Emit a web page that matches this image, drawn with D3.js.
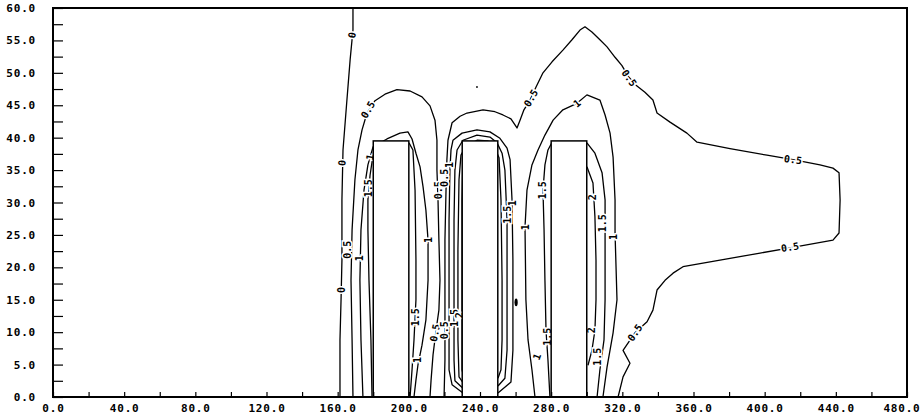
<!DOCTYPE html>
<html>
<head>
<meta charset="utf-8">
<script src="https://cdn.jsdelivr.net/npm/d3@7"></script>
<style>
  body { margin: 0; background: #fff; }
  .axis text { font-family: "DejaVu Sans Mono", monospace; font-weight: bold; font-size: 11px; letter-spacing: 0.8px; fill: #000; }
  .axis line { stroke: #000; stroke-width: 1.2; }
  .contour { fill: none; stroke: #000; stroke-width: 1.3; stroke-linejoin: round; }
  .clabel { font-family: "DejaVu Sans Mono", monospace; font-weight: bold; font-size: 10px; fill: #000;
            stroke: #fff; stroke-width: 3px; paint-order: stroke; }
</style>
</head>
<body>
<div class="display"></div>
<script>
// Contour chart around three blocks, x 0-480, y 0-60

const WIDTH = 921;
const HEIGHT = 417;
const LEFT = 53, RIGHT = 907, TOP = 8, BOTTOM = 397;

const xTickValues = d3.range(0, 481, 20);
const yTickValues = d3.range(0, 60.01, 2.5);

// blocks: [x0, x1, height]
const blocks = [[180, 200, 39.5], [230, 250, 39.5], [280, 300, 39.5]];

// contour lines, [x, y] in data units
const line0 = [[168.6,60],[168.6,56.6],[167.0,52.0],[165.2,45.8],[163.0,38.1],[162.4,30.4],[162.4,21.1],[161.9,15.0],[161.3,8.8],[161.3,0]];

const line05a = [[168.6,0],[168.1,8.8],[167.5,18.0],[168.1,25.8],[169.7,33.5],[171.4,38.1],[173.7,41.2],[176.5,43.8],[181.0,45.7],[186.6,46.7],
  [193.3,47.4],[200.7,47.2],[207.4,46.3],[211.9,44.9],[214.7,42.7],[215.8,39.6],[215.8,35.0],[216.4,30.4],[216.9,24.2],[217.5,18.0],
  [216.9,13.4],[215.3,10.3],[213.6,6.5],[212.5,2.6],[211.9,0]];

const line05b = [[219.8,0],[220.3,5.7],[220.3,15.0],[220.3,24.2],[220.9,31.9],[221.4,36.6],[222.0,39.6],[224.3,42.3],[228.8,43.3],[232.7,43.8],
  [241.7,44.3],[248.4,44.0],[252.9,43.5],[257.4,42.9],[260.8,41.5],[262.5,42.7],[264.7,44.3],[268.1,45.8],[271.5,47.8],[275.4,50.0],
  [280.5,51.7],[286.6,53.5],[291.7,55.1],[296.2,56.6],[299.0,57.1],[302.9,56.3],[307.4,55.1],[311.4,54.0],[315.9,52.4],[319.8,51.1],
  [323.2,49.5],[327.7,48.1],[332.7,47.0],[337.2,45.8],[339.5,43.8],[346.8,42.4],[356.3,40.7],[362.0,39.3],[380.5,38.3],[401.3,37.3],
  [415.9,36.6],[431.1,35.8],[438.4,35.3],[441.8,34.6],[442.4,30.4],[441.8,25.3],[438.4,24.2],[414.2,23.0],[397.4,22.2],[374.9,21.1],
  [354.1,20.1],[348.5,19.1],[344.0,18.0],[339.5,16.5],[337.2,13.4],[333.9,11.6],[327.1,9.9],[320.4,7.2],[324.3,5.2],[320.4,3.1],[317.6,0]];

const line1a = [[174.2,0],[173.1,8.8],[172.5,18.0],[173.1,25.8],[174.8,31.9],[177.0,35.8],[179.9,38.6],[187.7,39.8],[195.0,40.7],[199.5,40.9],
  [201.8,39.8],[204.0,37.6],[206.3,35.5],[208.0,32.4],[209.6,28.8],[210.8,24.2],[210.8,18.0],[209.6,11.9],[207.4,8.0],[205.1,4.9],
  [204.0,2.6],[202.9,0]];

const line15a = [[179.3,0],[178.7,8.8],[177.6,18.0],[177.0,25.8],[177.0,30.4],[178.2,34.2],[179.9,37.3],[181.0,39.0]];

const line15b = [[200.1,39.2],[202.3,38.1],[203.5,31.9],[204.0,21.1],[204.0,15.0],[202.9,8.8],[201.8,4.2],[200.7,0]];

const line1b = [[231.0,0.5],[224.3,1.9],[222.6,4.2],[222.6,15.0],[222.6,27.3],[223.1,35.0],[223.7,38.1],[224.8,39.6],[229.9,40.7],[238.3,41.2],
  [245.6,40.9],[251.2,39.9],[255.2,38.4],[256.9,36.6],[258.0,30.4],[258.5,21.1],[258.5,11.9],[258.5,7.2],[257.4,2.3],[250.1,0.6]];

const line15c = [[231.0,1.2],[225.9,2.5],[225.4,5.7],[225.4,15.0],[225.4,27.3],[225.9,35.0],[227.1,38.1],[230.4,39.6],[238.3,40.4],[245.6,40.1],
  [249.6,39.2],[252.4,37.6],[254.0,35.0],[255.2,27.3],[255.2,15.0],[255.2,7.2],[254.0,2.9],[250.1,1.7]];

const line2b = [[231.0,2.0],[228.2,3.1],[227.6,8.8],[227.6,22.7],[228.2,33.5],[229.3,37.3],[232.1,38.7],[238.3,39.6],[244.5,39.5],[247.9,38.7],
  [250.7,36.9],[251.8,30.4],[252.4,18.0],[252.4,8.8],[251.8,4.2],[250.1,2.9]];

const line25b = [[231.0,2.9],[229.9,4.2],[229.9,15.0],[229.9,30.4],[230.4,36.6]];

const line1c = [[270.9,0],[269.2,4.2],[267.0,8.8],[265.8,15.0],[265.3,26.2],[266.4,31.9],[269.2,35.8],[272.6,38.1],[276.5,40.4],[281.1,42.7],
  [286.6,44.3],[294.5,45.3],[300.1,46.6],[307.4,45.8],[310.3,43.5],[313.1,40.7],[314.8,37.0],[315.9,30.4],[315.9,25.3],[317.0,15.0],
  [314.8,9.9],[311.4,4.6],[309.1,0]];

const line15d = [[279.3,0],[278.2,5.7],[277.1,10.3],[276.5,18.0],[276.0,25.8],[275.4,31.9],[276.5,35.8],[278.2,38.1],[280.5,39.3]];

const line15e = [[300.1,39.2],[304.6,37.6],[308.6,34.6],[310.3,30.4],[310.3,24.2],[310.3,15.0],[309.7,8.8],[307.4,4.2],[305.8,0]];

const line2d = [[300.1,35.5],[303.5,33.0],[304.6,27.8],[305.2,21.1],[305.2,15.0],[304.6,10.3],[302.9,7.2],[300.7,4.9]];

const contourLines = [line0, line05a, line05b, line1a, line15a, line15b, line1b, line15c, line2b, line25b, line1c, line15d, line15e, line2d];

// contour labels: [text, x, y, angle]
const labels = [
  ['0', 168.1, 55.8, -80], ['0', 162.4, 36.1, -85], ['0', 162.4, 16.5, -90],
  ['0.5', 177.0, 44.3, -60], ['0.5', 165.8, 22.7, -90], ['0.5', 216.4, 31.9, -90], ['0.5', 214.7, 9.9, -80],
  ['0.5', 268.7, 46.1, -60], ['0.5', 323.8, 49.2, 55], ['0.5', 415.9, 36.6, 8], ['0.5', 414.2, 23.1, -8],
  ['0.5', 327.1, 9.9, -55], ['0.5', 220.3, 33.8, -90], ['0.5', 220.3, 10.3, -90],
  ['1', 178.2, 37.0, -80], ['1', 172.5, 21.4, -90], ['1', 210.8, 24.2, -90], ['1', 294.5, 45.3, -40],
  ['1', 265.3, 26.2, -90], ['1', 258.0, 29.9, -90], ['1', 314.8, 24.7, -90], ['1', 272.0, 6.2, -70],
  ['1', 204.6, 5.7, -90], ['1', 222.9, 35.8, -90],
  ['1.5', 203.5, 12.3, -90], ['1.5', 177.6, 32.2, -90], ['1.5', 275.4, 31.9, -90], ['1.5', 278.2, 9.3, -90],
  ['1.5', 309.1, 26.8, -90], ['1.5', 305.8, 6.2, -90], ['1.5', 225.4, 12.2, -90], ['1.5', 255.2, 28.1, -90],
  ['2', 303.5, 30.8, -90], ['2', 302.9, 10.3, -90], ['2', 228.2, 12.6, -90]
];

// tiny closed spots: [x, y, rx, ry]
const spots = [[238.3, 47.8, 0.5, 0.15], [260.3, 14.6, 0.9, 0.6]];

let svg, x, y;

function setupSvg() {
  svg = d3.select('.display')
    .append('svg')
    .attr('width', WIDTH)
    .attr('height', HEIGHT);

  x = d3.scaleLinear().domain([0, 480]).range([LEFT, RIGHT]);
  y = d3.scaleLinear().domain([0, 60]).range([BOTTOM, TOP]);
}

function drawAxes() {
  const xAxis = d3.axisBottom(x)
    .tickValues(xTickValues)
    .tickSizeInner(-5)
    .tickSizeOuter(0)
    .tickPadding(7)
    .tickFormat(d => d % 40 === 0 ? d.toFixed(1) : '');

  const yAxis = d3.axisLeft(y)
    .tickValues(yTickValues)
    .tickSizeInner(-10)
    .tickSizeOuter(0)
    .tickPadding(17)
    .tickFormat(d => d % 5 === 0 ? d.toFixed(1) : '');

  svg.append('g')
    .attr('class', 'axis')
    .attr('transform', `translate(0,${BOTTOM})`)
    .call(xAxis)
    .call(g => g.select('.domain').remove())
    .call(g => g.selectAll('text').attr('font-family', null).attr('font-size', null))
    // last label would run past the page edge, keep it inside
    .call(g => g.selectAll('.tick text').filter(d => d === 480)
      .attr('text-anchor', 'end')
      .attr('x', WIDTH - 1 - RIGHT));

  svg.append('g')
    .attr('class', 'axis')
    .attr('transform', `translate(${LEFT},0)`)
    .call(yAxis)
    .call(g => g.select('.domain').remove())
    .call(g => g.selectAll('text').attr('font-family', null).attr('font-size', null));
}

function drawContours() {
  const line = d3.line().x(d => x(d[0])).y(d => y(d[1]));

  svg.append('g')
    .selectAll('path')
    .data(contourLines)
    .enter()
    .append('path')
    .attr('class', 'contour')
    .attr('d', line);

  svg.append('g')
    .selectAll('ellipse')
    .data(spots)
    .enter()
    .append('ellipse')
    .attr('cx', d => x(d[0]))
    .attr('cy', d => y(d[1]))
    .attr('rx', d => x(d[2]) - x(0))
    .attr('ry', d => y(0) - y(d[3]))
    .attr('fill', '#000');

  svg.append('g')
    .selectAll('text')
    .data(labels)
    .enter()
    .append('text')
    .attr('class', 'clabel')
    .attr('text-anchor', 'middle')
    .attr('dominant-baseline', 'central')
    .attr('transform', d => `translate(${x(d[1])},${y(d[2])}) rotate(${d[3]})`)
    .text(d => d[0]);
}

function drawBlocks() {
  svg.append('g')
    .selectAll('rect')
    .data(blocks)
    .enter()
    .append('rect')
    .attr('x', d => x(d[0]))
    .attr('y', d => y(d[2]))
    .attr('width', d => x(d[1]) - x(d[0]))
    .attr('height', d => y(0) - y(d[2]))
    .attr('fill', '#fff')
    .attr('stroke', '#000')
    .attr('stroke-width', 1.5);
}

function drawFrame() {
  svg.append('rect')
    .attr('x', LEFT)
    .attr('y', TOP)
    .attr('width', RIGHT - LEFT)
    .attr('height', BOTTOM - TOP)
    .attr('fill', 'none')
    .attr('stroke', '#000')
    .attr('stroke-width', 2);
}

setupSvg();
drawContours();
drawBlocks();
drawAxes();
drawFrame();
</script>
</body>
</html>
